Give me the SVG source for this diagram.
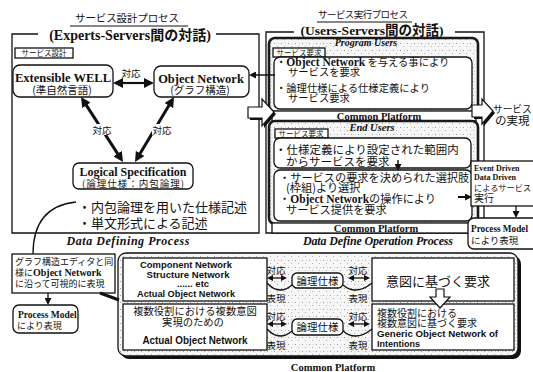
<svg xmlns="http://www.w3.org/2000/svg" width="533" height="372" viewBox="0 0 533 372">
<style>
text{fill:#111}
.jp{font-family:"Noto Sans CJK JP",sans-serif}
.sb{font-family:"Liberation Serif","Noto Sans CJK JP",serif;font-weight:bold}
.sbi{font-family:"Liberation Serif","Noto Sans CJK JP",serif;font-weight:bold;font-style:italic}
.ab{font-family:"Liberation Sans","Noto Sans CJK JP",sans-serif;font-weight:bold}
.m{text-anchor:middle}
.box{fill:#fff;stroke:#111;stroke-width:1.3}
.frame{fill:none;stroke:#111;stroke-width:1.3}
.panel{fill:url(#dots);stroke:#1a1a1a;stroke-width:2.6}
.tag{fill:#fff;stroke:#111;stroke-width:1.3}
.c{fill:none;stroke:#111;stroke-width:1.3}
.blk{fill:#fff;stroke:#111;stroke-width:1.2}
.sh{fill:#111}
</style>
<defs>
<pattern id="dots" width="7" height="7" patternUnits="userSpaceOnUse">
<rect width="7" height="7" fill="#f6f6f6"/>
<rect x="1" y="1" width="1" height="1" fill="#9a9a9a"/>
<rect x="4" y="4" width="1" height="1" fill="#b0b0b0"/>
<rect x="5" y="1" width="1" height="1" fill="#cfcfcf"/>
</pattern>
<marker id="ah" viewBox="0 0 10 10" refX="5" refY="5" markerWidth="7" markerHeight="7" markerUnits="userSpaceOnUse" orient="auto-start-reverse"><path d="M0,0 L10,5 L0,10 z" fill="#111"/></marker>
<marker id="as" viewBox="0 0 10 10" refX="5" refY="5" markerWidth="6" markerHeight="6" markerUnits="userSpaceOnUse" orient="auto-start-reverse"><path d="M0,0 L10,5 L0,10 z" fill="#111"/></marker>
<marker id="ahb" viewBox="0 0 10 10" refX="3" refY="5" markerWidth="10" markerHeight="10" markerUnits="userSpaceOnUse" orient="auto-start-reverse"><path d="M0,0 L10,5 L0,10 z" fill="#111"/></marker>
</defs>
<rect width="533" height="372" fill="#fff"/>

<!-- left section frame -->
<g id="design-process">
<text class="jp m" x="127" y="22" font-size="10.5" textLength="104">サービス設計プロセス</text>
<line x1="70" y1="26" x2="188" y2="26" stroke="#111" stroke-width="1.2"/>
<path class="frame" d="M38,34 H12 V233 H259 V34 H216"/>
<text class="sb m" x="130" y="40" font-size="14">(Experts-Servers間の対話)</text>
<rect class="tag" x="15" y="48" width="58" height="10"/>
<text class="jp m" x="44" y="56" font-size="7.5">サービス設計</text>
<text class="sbi m" x="128" y="245" font-size="12" textLength="123">Data Defining Process</text>
</g>

<g id="well">
<rect class="box" x="13" y="65" width="100" height="32" rx="7"/>
<text class="sb m" x="63" y="82" font-size="12.5">Extensible WELL</text>
<text class="jp m" x="62" y="94" font-size="10.5">(準自然言語)</text>
</g>

<g id="object-network">
<rect class="box" x="154" y="66" width="95" height="31" rx="7"/>
<text class="sb m" x="201" y="83" font-size="12.5">Object Network</text>
<text class="jp m" x="200" y="94" font-size="10.5">(グラフ構造)</text>
</g>

<g id="logical-spec">
<rect class="box" x="73" y="163" width="120" height="26" rx="6"/>
<text class="sb m" x="133" y="176" font-size="12">Logical Specification</text>
<text class="jp m" x="133" y="186.5" font-size="9.5" textLength="102">(論理仕様：内包論理)</text>
</g>

<g id="spec-notes">
<text class="jp" x="78" y="212" font-size="13">・内包論理を用いた仕様記述</text>
<text class="jp" x="78" y="228" font-size="13">・単文形式による記述</text>
</g>

<!-- right section frame -->
<g id="operation-process">
<text class="jp m" x="363" y="18" font-size="9.5" textLength="90">サービス実行プロセス</text>
<line x1="317" y1="22" x2="412" y2="22" stroke="#111" stroke-width="1.2"/>
<path class="frame" d="M294,32 H266 V233 H484 V32 H455"/>
<text class="sb m" x="372" y="35" font-size="13.5">(Users-Servers間の対話)</text>
<text class="sbi m" x="378" y="245" font-size="12" textLength="150">Data Define Operation Process</text>
</g>

<g id="program-users">
<rect class="panel" x="269" y="38" width="209" height="74" rx="6"/>
<text class="sbi m" x="366" y="46" font-size="10">Program Users</text>
<rect class="tag" x="273" y="48" width="52" height="9"/>
<text class="jp m" x="299" y="55.5" font-size="7.5">サービス要求</text>
<rect class="box" x="274" y="57" width="198" height="52" rx="6"/>
<text class="jp" x="276" y="66" font-size="10.3">・<tspan class="sb" font-size="11.5">Object Network</tspan> を与える事により</text>
<text class="jp" x="288" y="75.5" font-size="10.3">サービスを要求</text>
<text class="jp" x="276" y="92" font-size="10.3">・論理仕様による仕様定義により</text>
<text class="jp" x="288" y="101.5" font-size="10.3">サービス要求</text>
</g>

<g id="common-platform-1">
<rect class="box" x="272" y="111" width="204" height="10"/>
<text class="sb m" x="379" y="119.5" font-size="10.5">Common Platform</text>
</g>

<g id="end-users">
<rect class="panel" x="269" y="121" width="209" height="103" rx="6"/>
<text class="sbi m" x="372" y="130.5" font-size="10.5">End Users</text>
<rect class="tag" x="275" y="129" width="53" height="9"/>
<text class="jp m" x="301" y="136.5" font-size="7.5">サービス要求</text>
<rect class="box" x="274" y="138" width="197" height="30" rx="6"/>
<text class="jp" x="275" y="154" font-size="11.5">・仕様定義により設定された範囲内</text>
<text class="jp" x="286" y="166" font-size="11.5">からサービスを要求</text>
<rect class="box" x="274" y="170" width="198" height="51" rx="6"/>
<text class="jp" x="279" y="182" font-size="11.2">・サービスの要求を決められた選択肢</text>
<text class="jp" x="286" y="192" font-size="11.2">(枠組)より選択</text>
<text class="jp" x="279" y="203" font-size="11.2">・<tspan class="sb" font-size="11.5">Object Network</tspan>の操作により</text>
<text class="jp" x="286" y="214" font-size="11.2">サービス提供を要求</text>
</g>

<g id="common-platform-2">
<rect class="box" x="272" y="223" width="204" height="10"/>
<text class="sb m" x="376" y="231.5" font-size="10.5">Common Platform</text>
</g>

<g id="service-realization">
<text class="jp" x="493" y="113" font-size="9.7">サービス</text>
<text class="jp" x="495" y="125" font-size="11.5">の実現</text>
</g>

<g id="event-driven">
<rect class="box" x="471" y="161" width="70" height="45"/>
<text class="sb" x="474" y="171" font-size="8">Event Driven</text>
<text class="sb" x="474" y="179.5" font-size="8">Data Driven</text>
<text class="jp" x="474" y="191" font-size="8.2">によるサービス</text>
<text class="jp" x="474" y="202" font-size="10">実行</text>
</g>

<g id="process-model-right">
<rect class="box" x="468" y="218" width="80" height="31" rx="6"/>
<text class="sb" x="471" y="231.5" font-size="10" textLength="57" lengthAdjust="spacingAndGlyphs">Process Model</text>
<text class="jp" x="471" y="244" font-size="9.5">により表現</text>
</g>

<g id="graph-editor">
<rect class="box" x="12" y="254" width="103" height="39"/>
<text class="jp" x="15" y="264.5" font-size="9">グラフ構造エディタと同</text>
<text class="jp" x="15" y="275.5" font-size="9">様に<tspan class="sb" font-size="10">Object Network</tspan></text>
<text class="jp" x="15" y="286.5" font-size="9">に沿って可視的に表現</text>
</g>

<g id="process-model-left">
<rect class="box" x="13" y="305" width="65" height="28" rx="6"/>
<text class="sb" x="18" y="318" font-size="9.5">Process Model</text>
<text class="jp" x="17" y="328.5" font-size="9">により表現</text>
</g>

<g id="platform-panel">
<rect class="sh" x="121" y="256" width="400" height="103" rx="8"/>
<rect x="118" y="253" width="400" height="103" rx="8" fill="url(#dots)" stroke="#111" stroke-width="1.3"/>
<text class="sb m" x="333" y="370.5" font-size="10.5">Common Platform</text>
</g>

<g id="actual-network">
<rect class="box" x="123" y="258" width="144" height="43"/>
<text class="ab m" x="186" y="267.5" font-size="9.5" textLength="92" lengthAdjust="spacingAndGlyphs">Component Network</text>
<text class="ab m" x="188" y="277.5" font-size="9.5" textLength="83" lengthAdjust="spacingAndGlyphs">Structure Network</text>
<text class="ab m" x="193" y="287" font-size="9.5">...... etc</text>
<text class="ab m" x="186" y="297" font-size="9.5" textLength="98" lengthAdjust="spacingAndGlyphs">Actual Object Network</text>
</g>

<g id="actual-network-intent">
<rect class="box" x="123" y="304" width="144" height="46"/>
<text class="jp m" x="195" y="315" font-size="10.3">複数役割における複数意図</text>
<text class="jp m" x="193" y="326" font-size="10.3">実現のための</text>
<text class="ab m" x="195" y="344" font-size="10" textLength="105" lengthAdjust="spacingAndGlyphs">Actual Object Network</text>
</g>

<g id="logic-spec-1">
<rect class="box" x="292" y="273" width="51" height="15" rx="5"/>
<text class="jp m" x="317.5" y="284.5" font-size="10.5">論理仕様</text>
</g>

<g id="logic-spec-2">
<rect class="box" x="292" y="319" width="51" height="16" rx="5"/>
<text class="jp m" x="317.5" y="331" font-size="10.5">論理仕様</text>
</g>

<g id="intent-request">
<rect class="box" x="372" y="258" width="142" height="43"/>
<text class="jp m" x="438" y="286" font-size="13">意図に基づく要求</text>
</g>

<g id="generic-network">
<rect class="box" x="372" y="304" width="142" height="46"/>
<text class="jp" x="377" y="317" font-size="10">複数役割における</text>
<text class="jp" x="377" y="327" font-size="10">複数意図に基づく要求</text>
<text class="ab" x="377" y="336.5" font-size="9" textLength="121" lengthAdjust="spacingAndGlyphs">Generic Object Network of</text>
<text class="ab" x="377" y="346.5" font-size="9">Intentions</text>
</g>

<g id="connectors">
<line x1="120" y1="83" x2="147" y2="83" stroke="#111" stroke-width="2.2" marker-start="url(#ahb)" marker-end="url(#ahb)"/>
<line x1="84.8" y1="102.9" x2="119.2" y2="156.1" stroke="#111" stroke-width="3" marker-start="url(#ahb)" marker-end="url(#ahb)"/>
<line x1="170.4" y1="103" x2="138.6" y2="156" stroke="#111" stroke-width="3" marker-start="url(#ahb)" marker-end="url(#ahb)"/>
<rect x="121" y="67" width="20" height="11" fill="#fff"/>
<text class="jp m" x="131" y="76.5" font-size="9.5">対応</text>
<rect x="92" y="124" width="21" height="11" fill="#fff"/>
<text class="jp m" x="102" y="133.5" font-size="9.5">対応</text>
<rect x="152" y="124" width="21" height="11" fill="#fff"/>
<text class="jp m" x="162" y="133.5" font-size="9.5">対応</text>
<line x1="275" y1="75" x2="252.5" y2="75" stroke="#111" stroke-width="1.5" marker-end="url(#ah)"/>
<path class="c" d="M33,254 C33,222 48,205 76,202" stroke-width="2.5"/>
<line x1="48" y1="293" x2="48" y2="301.5" stroke="#111" stroke-width="1.3" marker-end="url(#ah)"/>
<line x1="100" y1="293" x2="119" y2="300" stroke="#111" stroke-width="3"/>
<line x1="398" y1="160" x2="398" y2="167.5" stroke="#111" stroke-width="1.5" marker-end="url(#ah)"/>
<line x1="458" y1="197" x2="468.5" y2="197" stroke="#111" stroke-width="2" marker-end="url(#ah)"/>
<line x1="516" y1="206" x2="516" y2="214.5" stroke="#111" stroke-width="1.3" marker-end="url(#ah)"/>
<!-- bottom middle: correspondences -->
<line x1="270" y1="278" x2="284" y2="278" stroke="#111" stroke-width="1.3" marker-start="url(#as)" marker-end="url(#as)"/>
<line x1="351" y1="278" x2="367" y2="278" stroke="#111" stroke-width="1.3" marker-start="url(#as)" marker-end="url(#as)"/>
<line x1="270" y1="324" x2="284" y2="324" stroke="#111" stroke-width="1.3" marker-start="url(#as)" marker-end="url(#as)"/>
<line x1="351" y1="324" x2="367" y2="324" stroke="#111" stroke-width="1.3" marker-start="url(#as)" marker-end="url(#as)"/>
<path class="c" d="M267,283 Q279,296 292,285"/>
<path class="c" d="M343,285 Q356,296 372,283"/>
<path class="c" d="M267,329 Q279,342 292,331"/>
<path class="c" d="M343,331 Q356,342 372,329"/>
<text class="jp m" x="276" y="273.5" font-size="9.5">対応</text>
<text class="jp m" x="358" y="273.5" font-size="9.5">対応</text>
<text class="jp m" x="276" y="301.5" font-size="9.5">表現</text>
<text class="jp m" x="358" y="301.5" font-size="9.5">表現</text>
<text class="jp m" x="276" y="319.5" font-size="9.5">対応</text>
<text class="jp m" x="358" y="319.5" font-size="9.5">対応</text>
<text class="jp m" x="276" y="348.5" font-size="9.5">表現</text>
<text class="jp m" x="358" y="348.5" font-size="9.5">表現</text>
<!-- block arrows -->
<polygon class="sh" points="250,109 264,109 264,101 276,114 264,128 264,120 250,120"/>
<polygon class="blk" points="248,107 262,107 262,99 274,112 262,126 262,118 248,118"/>
<polygon class="sh" points="474,107 484,107 484,101 495,113 484,126 484,119 474,119"/>
<polygon class="blk" points="472,105 482,105 482,99 493,111 482,124 482,117 472,117"/>
<polygon class="blk" points="436,289 444,289 444,297 450,297 440,308 430,297 436,297"/>
</g>
</svg>
